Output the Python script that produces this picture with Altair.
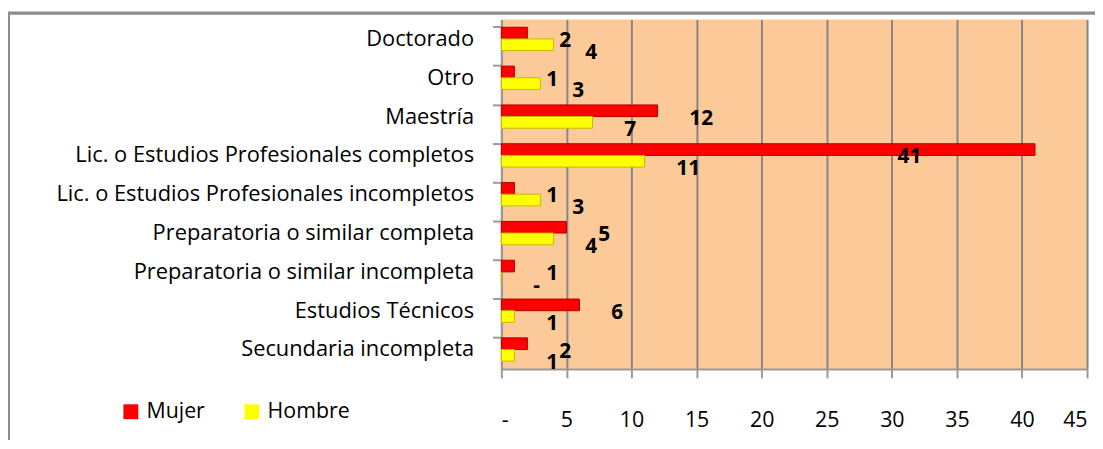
import altair as alt
import pandas as pd

categorias = [
    "Doctorado",
    "Otro",
    "Maestría",
    "Lic. o Estudios Profesionales completos",
    "Lic. o Estudios Profesionales incompletos",
    "Preparatoria o similar completa",
    "Preparatoria o similar incompleta",
    "Estudios Técnicos",
    "Secundaria incompleta",
]
mujer = [2, 1, 12, 41, 1, 5, 1, 6, 2]
hombre = [4, 3, 7, 11, 3, 4, 0, 1, 1]
series = ["Mujer", "Hombre"]
colores = ["#FF0000", "#FFFF00"]
bordes = ["#B00000", "#BDBD00"]
x_ticks = [0, 5, 10, 15, 20, 25, 30, 35, 40, 45]

rows = []
for c, m, h in zip(categorias, mujer, hombre):
    rows.append({"categoria": c, "sexo": "Mujer", "valor": m})
    rows.append({"categoria": c, "sexo": "Hombre", "valor": h})
df = pd.DataFrame(rows)

FONT = "Open Sans"
FS = 22

y_enc = alt.Y(
    "categoria:N",
    sort=categorias,
    scale=alt.Scale(paddingInner=0.4, paddingOuter=0.2),
    title=None,
    axis=alt.Axis(
        labelFont=FONT, labelFontSize=FS, labelColor="#000000",
        labelPadding=28, ticks=False, domainColor="#9a9a9a", domainWidth=2,
        labelLimit=600,
    ),
)
x_enc = alt.X(
    "valor:Q",
    scale=alt.Scale(domain=[0, 45], nice=False),
    title=None,
    axis=alt.Axis(
        values=x_ticks, labelExpr="datum.value == 0 ? '-' : datum.label",
        labelFont=FONT, labelFontSize=21.5, labelColor="#000000",
        labelPadding=32, tickSize=9, tickColor="#9a9a9a", tickWidth=2,
        domainColor="#9a9a9a", domainWidth=2,
        grid=True, gridColor="#868686", gridWidth=2,
    ),
)
yoff = alt.YOffset("sexo:N", sort=series, scale=alt.Scale(domain=series))

base = alt.Chart(df)

bars = base.mark_bar(strokeWidth=1).encode(
    x=x_enc,
    y=y_enc,
    yOffset=yoff,
    color=alt.Color(
        "sexo:N",
        scale=alt.Scale(domain=series, range=colores),
        legend=alt.Legend(
            title=None, orient="none", legendX=-384, legendY=384,
            direction="horizontal", symbolType="square", symbolSize=225,
            symbolStrokeWidth=0, labelFont=FONT, labelFontSize=21.5,
            labelColor="#000000", columnPadding=36, labelOffset=5,
        ),
    ),
    stroke=alt.Stroke("sexo:N", scale=alt.Scale(domain=series, range=bordes), legend=None),
)

labels = base.transform_calculate(
    etiqueta="datum.valor == 0 ? '-' : toString(datum.valor)",
    pos="datum.valor > 30 ? 28 : datum.valor",
).mark_text(
    align="left", baseline="middle", dx=32, dy=8,
    font=FONT, fontSize=21, fontWeight="bold", color="#000000",
).encode(
    x=alt.X("pos:Q"),
    y=alt.Y("categoria:N", sort=categorias, axis=None),
    yOffset=yoff,
    text="etiqueta:N",
)

ticks_layer = base.mark_bar(opacity=0).encode(
    x=alt.X("valor:Q"),
    y=alt.Y(
        "categoria:N", sort=categorias, title=None,
        axis=alt.Axis(labels=False, domain=False, ticks=True, tickSize=9,
                      tickColor="#9a9a9a", tickWidth=2, bandPosition=0,
                      orient="left"),
    ),
)

frame = alt.Chart(pd.DataFrame({"k": [0]})).mark_rect(
    fill="#FFFFFF", fillOpacity=0, stroke="#8c8c8c", strokeWidth=2, clip=False
).encode(x=alt.value(-496), x2=alt.value(640), y=alt.value(-6), y2=alt.value(460))

top_line = alt.Chart(pd.DataFrame({"k": [0]})).mark_rect(
    color="#8c8c8c", clip=False
).encode(x=alt.value(-497), x2=alt.value(640), y=alt.value(-8), y2=alt.value(-5))

chart = alt.layer(bars, labels, ticks_layer, frame, top_line).resolve_axis(
    y="independent"
).properties(
    width=590, height=352,
    padding={"left": 497, "top": 10, "right": 8, "bottom": 70},
    autosize=alt.AutoSizeParams(type="none"),
    background="#FFFFFF",
).configure_view(fill="#FCCA98", stroke=None)

chart.save("out.html", embed_options={"renderer": "svg", "actions": False})
